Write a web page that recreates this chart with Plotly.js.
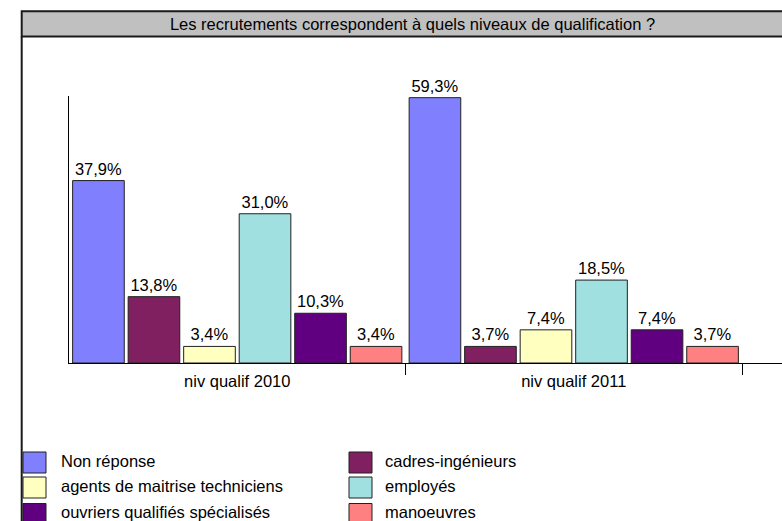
<!DOCTYPE html>
<html>
<head>
<meta charset="utf-8">
<script src="https://cdn.plot.ly/plotly-3.0.1.min.js"></script>
<style>html,body{margin:0;padding:0;background:#fff;}#chart{width:782px;height:521px;}</style>
</head>
<body>
<div id="chart"></div>
<script>
// ---- data ----
const categories = ['niv qualif 2010', 'niv qualif 2011'];
const seriesNames = ['Non réponse', 'cadres-ingénieurs', 'agents de maitrise techniciens', 'employés', 'ouvriers qualifiés spécialisés', 'manoeuvres'];
const seriesColors = ['#8080FF', '#802060', '#FFFFC0', '#A0E0E0', '#600080', '#FF8080'];
// response counts per category (bar heights)
const nonReponse = [11, 16];
const cadres = [4, 1];
const agents = [1, 2];
const employes = [9, 5];
const ouvriers = [3, 2];
const manoeuvres = [1, 1];
// percentage labels shown on bars
const nonReponseLbl = ['37,9%', '59,3%'];
const cadresLbl = ['13,8%', '3,7%'];
const agentsLbl = ['3,4%', '7,4%'];
const employesLbl = ['31,0%', '18,5%'];
const ouvriersLbl = ['10,3%', '7,4%'];
const manoeuvresLbl = ['3,4%', '3,7%'];
// category separators (tick marks between groups)
const separatorTicks = [0.5, 1.5];
const titleText = 'Les recrutements correspondent à quels niveaux de qualification ?';

const values = [nonReponse, cadres, agents, employes, ouvriers, manoeuvres];
const labels = [nonReponseLbl, cadresLbl, agentsLbl, employesLbl, ouvriersLbl, manoeuvresLbl];

const W = 782, H = 521;
const FONT = 'Liberation Sans, Arial, sans-serif';
const FS = 16.5;
const px = x => x / W;
const py = y => 1 - y / H;
const xRange = [-0.5, (W - 69) / 336.5 - 0.5];

const traces = seriesNames.map((name, i) => ({
  type: 'bar',
  name: name,
  x: categories,
  y: values[i],
  text: labels[i],
  texttemplate: '%{text}',
  textposition: 'outside',
  constraintext: 'none',
  cliponaxis: false,
  outsidetextfont: {family: FONT, size: FS, color: '#000'},
  marker: {color: seriesColors[i], line: {color: '#202020', width: 1}},
  hoverinfo: 'skip'
}));
// invisible helper trace so the separator-tick axis is drawn
traces.push({type: 'scatter', x: [], y: [], xaxis: 'x2', yaxis: 'y', showlegend: false, hoverinfo: 'skip'});

const shapes = [
  {type: 'rect', xref: 'paper', yref: 'paper', layer: 'below',
   x0: px(21.7), x1: px(800), y0: py(11.3), y1: py(36.5),
   fillcolor: '#C0C0C0', line: {color: '#1a1a1a', width: 2}},
  {type: 'line', xref: 'paper', yref: 'paper',
   x0: px(21.7), x1: px(21.7), y0: py(36.5), y1: py(540),
   line: {color: '#1a1a1a', width: 2}}
];
const annotations = [];
const sqX = [23, 349], txX = [59, 383], rowY = [462.5, 487.5, 514];
seriesNames.forEach((name, i) => {
  const c = i % 2, r = Math.floor(i / 2);
  shapes.push({type: 'rect', xref: 'paper', yref: 'paper',
    x0: px(sqX[c]), x1: px(sqX[c] + 23), y0: py(rowY[r] - 10.5), y1: py(rowY[r] + 10.5),
    fillcolor: seriesColors[i], line: {color: '#202020', width: 1}});
  annotations.push({xref: 'paper', yref: 'paper', x: px(txX[c]), y: py(rowY[r] - 2),
    xanchor: 'left', yanchor: 'middle', showarrow: false, text: name,
    font: {family: FONT, size: FS, color: '#000'}});
});

const layout = {
  width: W, height: H,
  margin: {l: 0, r: 0, t: 0, b: 0},
  paper_bgcolor: '#fff', plot_bgcolor: '#fff',
  showlegend: false,
  barmode: 'group', bargap: 0.01, bargroupgap: 0.07,
  title: {text: titleText, font: {family: FONT, size: FS, color: '#000'},
          xref: 'paper', yref: 'paper', x: px(412.5), xanchor: 'center', y: py(24), yanchor: 'middle'},
  xaxis: {type: 'category', domain: [px(69), 1], range: xRange,
          showline: true, linecolor: '#000', linewidth: 1, showgrid: false, zeroline: false,
          ticks: '', ticklabelstandoff: 3,
          tickfont: {family: FONT, size: FS, color: '#000'}, fixedrange: true},
  xaxis2: {type: 'linear', overlaying: 'x', anchor: 'y', side: 'bottom', range: xRange,
           tickmode: 'array', tickvals: separatorTicks, showticklabels: false,
           ticks: 'outside', ticklen: 11, tickcolor: '#000', tickwidth: 1,
           showline: false, showgrid: false, zeroline: false, fixedrange: true},
  yaxis: {domain: [py(363), py(96)], range: [0, 16.1], showline: true, linecolor: '#000', linewidth: 1,
          showgrid: false, zeroline: false, showticklabels: false, ticks: '', fixedrange: true},
  shapes: shapes,
  annotations: annotations,
  font: {family: FONT, color: '#000'}
};

Plotly.newPlot('chart', traces, layout, {staticPlot: true, displayModeBar: false});
</script>
</body>
</html>
